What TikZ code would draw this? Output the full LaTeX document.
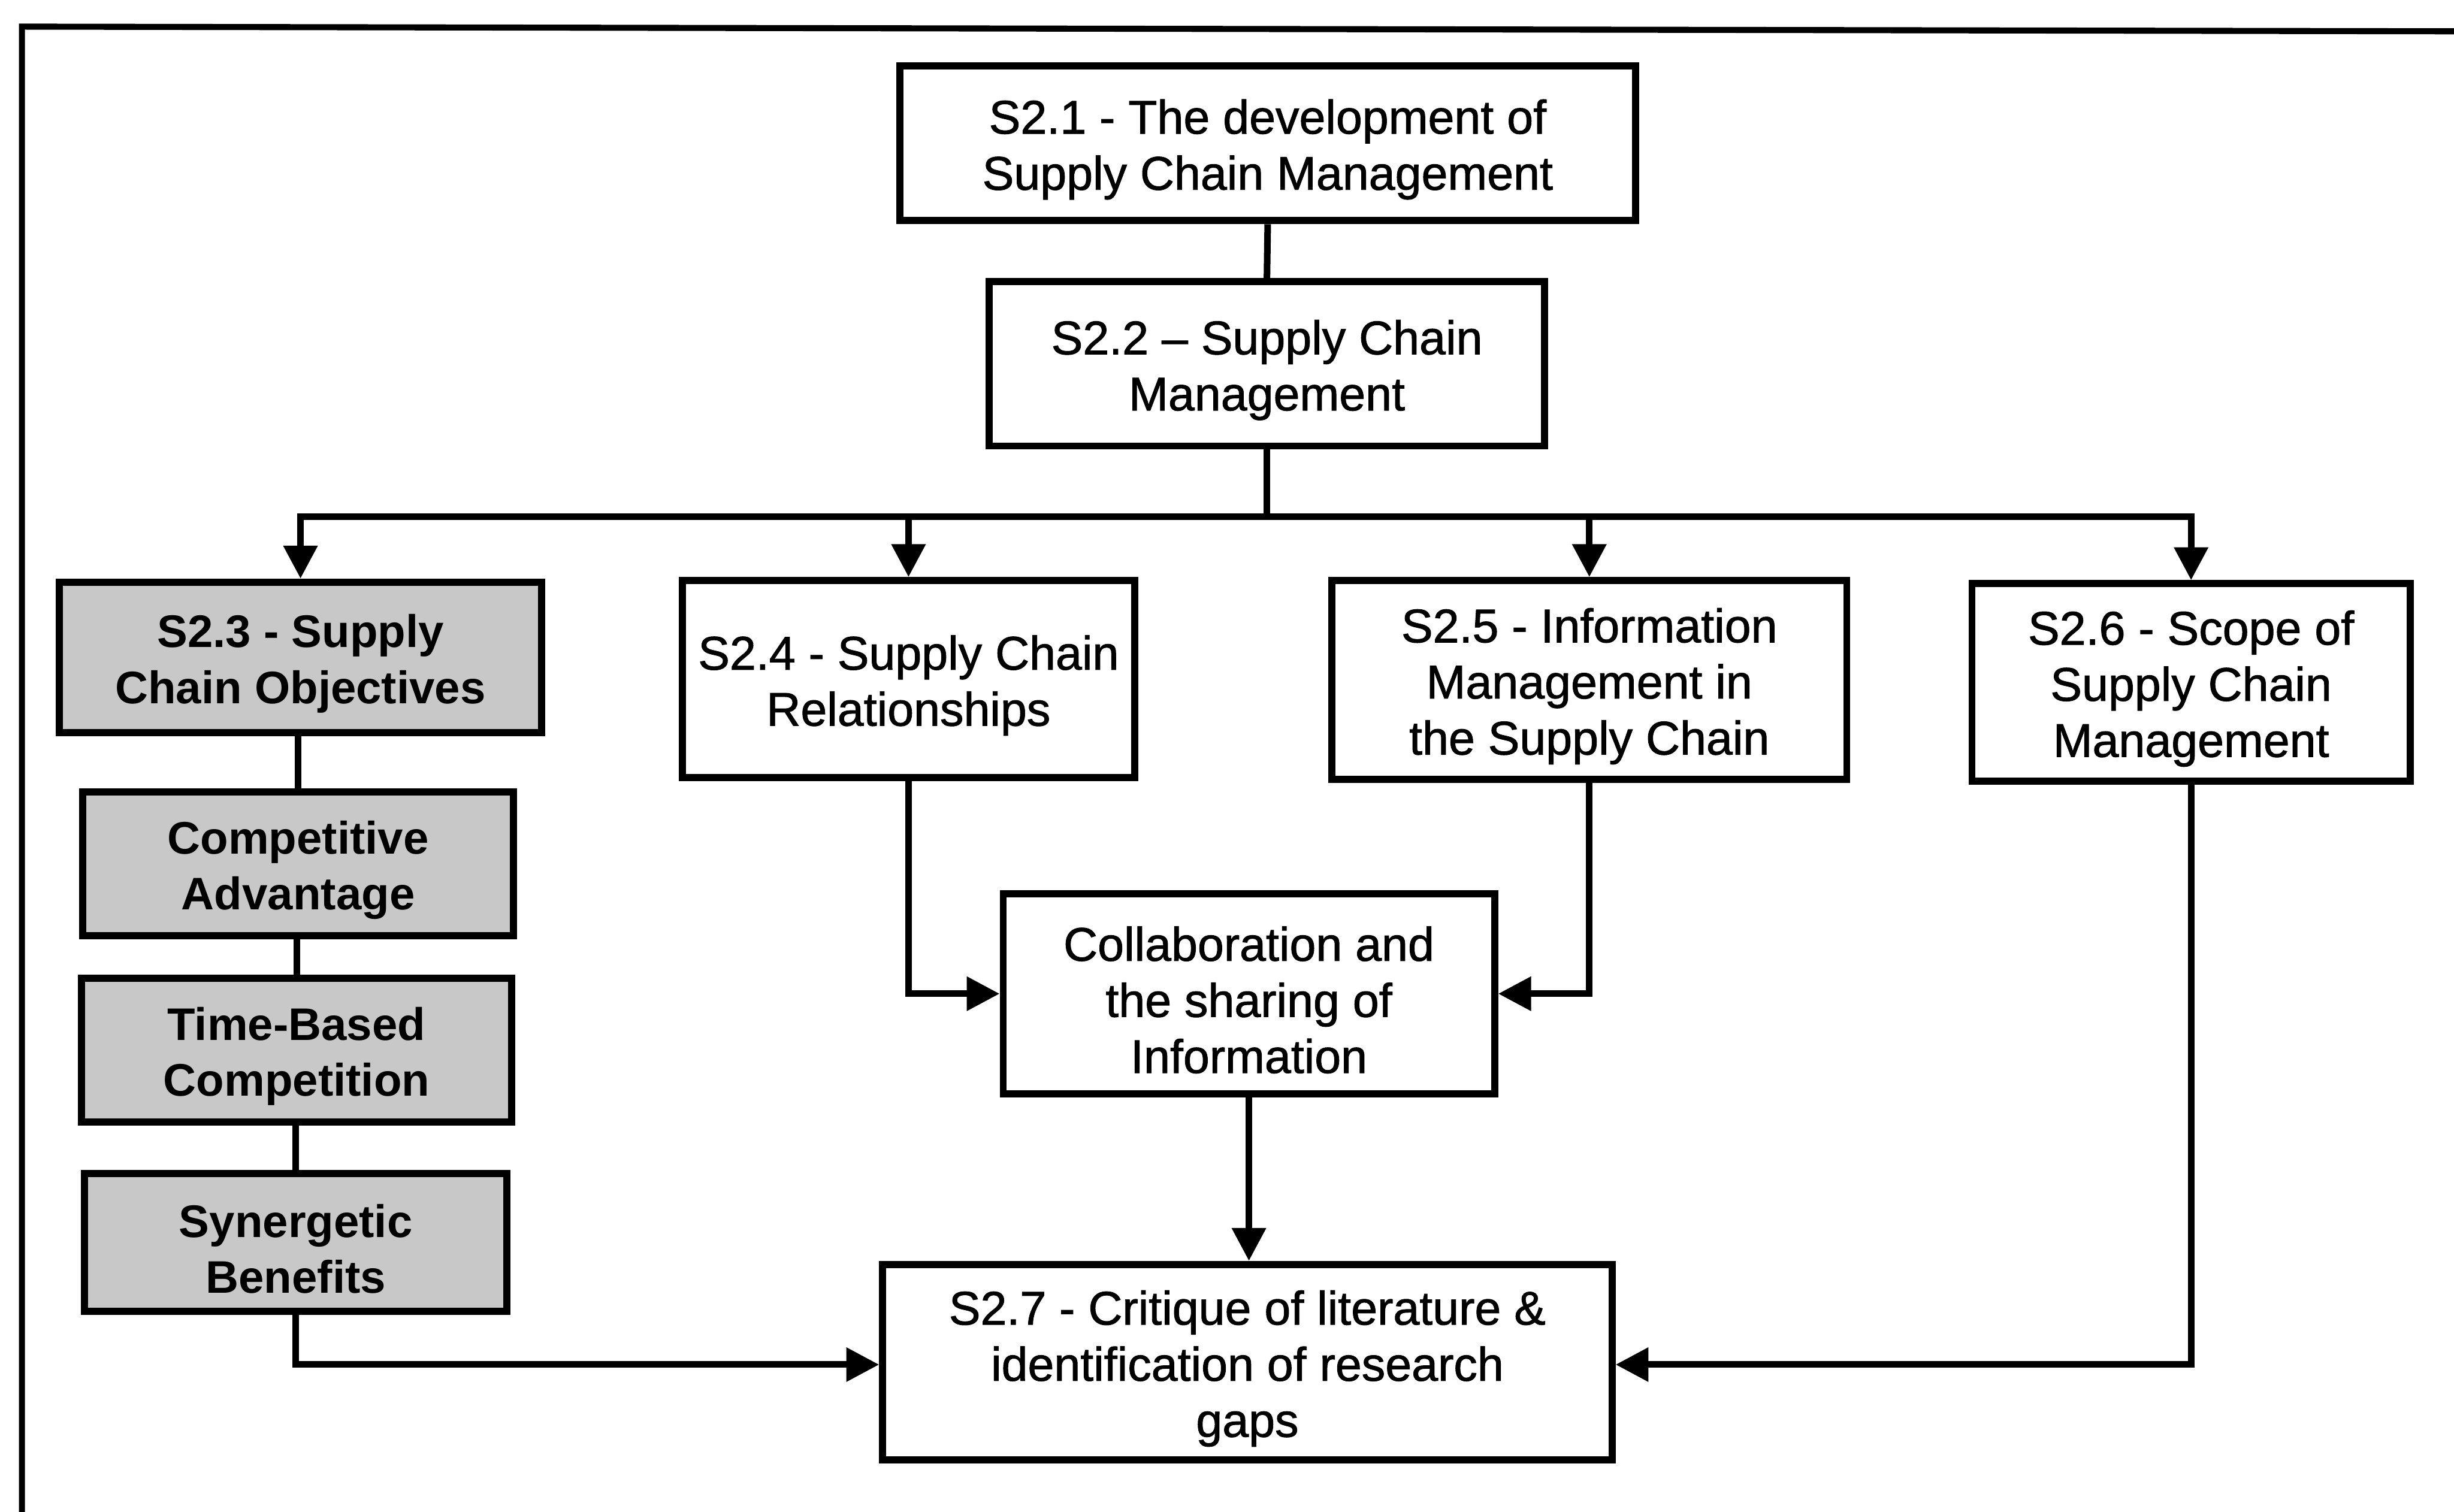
\documentclass[tikz,border=0pt]{standalone}
\usepackage{fontspec}
\setmainfont{Liberation Sans}
\newfontfamily\boxfont{Liberation Sans}[FakeBold=1.2, Ligatures=TeX]
\usetikzlibrary{arrows.meta,calc}
\definecolor{boxgray}{RGB}{200,200,200}
\begin{document}
\begin{tikzpicture}[
  x=1cm, y=1cm,
  every node/.style={align=center, inner sep=0pt},
  plaintext/.style={yshift=-0.04cm, font=\fontsize{8.6}{10.2}\selectfont\boxfont},
  boldtext/.style={yshift=-0.04cm, font=\fontsize{8.3}{10.2}\selectfont\bfseries},
  whitebox/.style={draw=black, line width=1.3pt, fill=white, label={[plaintext]center:{#1}}},
  greybox/.style={draw=black, line width=1.3pt, fill=boxgray, label={[boldtext]center:{#1}}},
  link/.style={draw=black, line width=1.2pt},
  arrowlink/.style={link, -{Triangle[length=0.21cm, width=0.21cm]}}
]
\useasboundingbox (0,0) rectangle (15.68,-9.66);

% outer frame
\draw[line width=1.1pt] (0.14,-9.70) -- (0.14,-0.17) -- (15.70,-0.20);

% section boxes
\node[whitebox={S2.1 - The development of\\Supply Chain Management},
      minimum width=4.70cm, minimum height=0.99cm] (s21) at (8.10,-0.915) {};
\node[whitebox={S2.2 \textendash{} Supply Chain\\Management},
      minimum width=3.55cm, minimum height=1.05cm] (s22) at (8.095,-2.325) {};
\node[greybox={S2.3 - Supply\\Chain Objectives},
      minimum width=3.08cm, minimum height=0.96cm] (s23) at (1.92,-4.20) {};
\node[whitebox={S2.4 - Supply Chain\\Relationships},
      minimum width=2.89cm, minimum height=1.26cm] (s24) at (5.805,-4.34) {};
\node[whitebox={S2.5 - Information\\Management in\\the Supply Chain},
      minimum width=3.29cm, minimum height=1.27cm] (s25) at (10.155,-4.345) {};
\node[whitebox={S2.6 - Scope of\\Supply Chain\\Management},
      minimum width=2.80cm, minimum height=1.26cm] (s26) at (14.00,-4.36) {};

% sub-objectives under S2.3
\node[greybox={Competitive\\Advantage},
      minimum width=2.75cm, minimum height=0.92cm] (comp) at (1.905,-5.52) {};
\node[greybox={Time-Based\\Competition},
      minimum width=2.75cm, minimum height=0.92cm] (time) at (1.895,-6.71) {};
\node[greybox={Synergetic\\Benefits},
      minimum width=2.70cm, minimum height=0.88cm] (syn) at (1.89,-7.94) {};

\node[whitebox={Collaboration and\\the sharing of\\Information},
      minimum width=3.14cm, minimum height=1.28cm] (coll) at (7.98,-6.35) {};
\node[whitebox={S2.7 - Critique of literature \&\\identification of research\\gaps},
      minimum width=4.66cm, minimum height=1.25cm] (s27) at (7.97,-8.705) {};

% connectors
\coordinate (bus) at ($(s22.south)+(0,-0.43)$);
\draw[link] (s21.south) -- (s22.north);
\draw[link] (s22.south) -- (bus);
\draw[arrowlink] (bus) -| (s23.north);
\draw[arrowlink] (bus) -| (s24.north);
\draw[arrowlink] (bus) -| (s25.north);
\draw[arrowlink] (bus) -| (s26.north);

\draw[link] (comp.north) -- (comp.north |- s23.south);
\draw[link] (time.north) -- (time.north |- comp.south);
\draw[link] (syn.north) -- (syn.north |- time.south);

\draw[arrowlink] (s24.south) |- (coll.west);
\draw[arrowlink] (s25.south) |- (coll.east);
\draw[arrowlink] (coll.south) -- (coll.south |- s27.north);
\draw[arrowlink] (syn.south) |- ([yshift=-0.015cm]s27.west);
\draw[arrowlink] (s26.south) |- ([yshift=-0.015cm]s27.east);
\end{tikzpicture}
\end{document}
